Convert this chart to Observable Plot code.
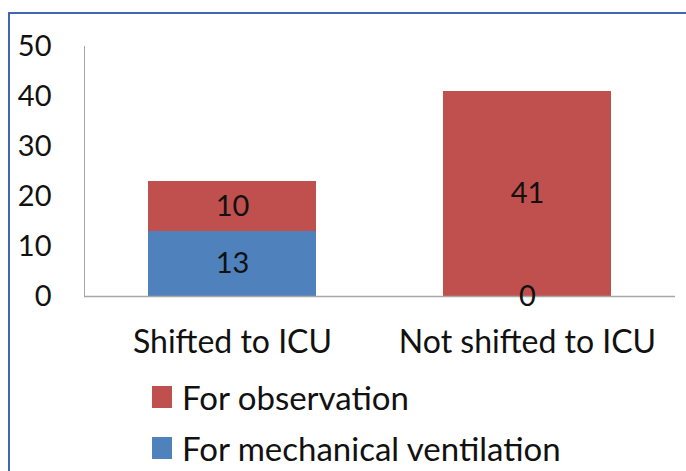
<!DOCTYPE html>
<html>
<head>
<meta charset="utf-8">
<script src="https://cdn.jsdelivr.net/npm/d3@7"></script>
<script src="https://cdn.jsdelivr.net/npm/@observablehq/plot@0.6"></script>
<style>
  html, body { margin: 0; padding: 0; background: #fff; }
  #wrap { position: relative; width: 686px; height: 471px; overflow: hidden; font-family: Lato, sans-serif; }
  #frame { position: absolute; left: 8px; top: 12px; width: 700px; height: 480px; border-top: 2px solid #4366b0; border-left: 2px solid #4366b0; }
  #chart { position: absolute; left: 0; top: 0; }
  .leg { position: absolute; left: 152px; height: 33px; line-height: 33px; font-size: 33px; color: #111; white-space: nowrap; }
  .leg .sw { position: absolute; left: 0; width: 20px; height: 22px; }
  .leg .tx { position: absolute; left: 30px; top: 0; }
</style>
</head>
<body>
<div id="wrap">
  <div id="frame"></div>
  <div id="chart"></div>
  <div id="legend"></div>
</div>
<script>
const categories = ["Shifted to ICU", "Not shifted to ICU"];
const seriesNames = ["For mechanical ventilation", "For observation"];
const forMechanicalVentilation = [13, 0];
const forObservation = [10, 41];
const seriesColors = ["#4F81BD", "#C0504D"];
const yTicks = [0, 10, 20, 30, 40, 50];
const legendOrder = ["For observation", "For mechanical ventilation"];

const seriesValues = [forMechanicalVentilation, forObservation];
const data = [];
seriesNames.forEach((s, si) => {
  categories.forEach((c, ci) => data.push({category: c, series: s, value: seriesValues[si][ci]}));
});

const font = "Lato, sans-serif";

const chart = Plot.plot({
  width: 686,
  height: 365,
  marginLeft: 84,
  marginRight: 11,
  marginTop: 46,
  marginBottom: 69,
  style: {fontFamily: font, fontSize: "29px", color: "#111", background: "transparent", overflow: "visible"},
  x: {domain: categories, paddingInner: 0.43, paddingOuter: 0.215, label: null},
  y: {domain: [0, 50], label: null},
  color: {domain: seriesNames, range: seriesColors},
  marks: [
    Plot.barY(data, Plot.stackY({x: "category", y: "value", fill: "series", order: seriesNames})),
    Plot.frame({anchor: "left", stroke: "#a6a6a6"}),
    Plot.ruleY([0], {stroke: "#a6a6a6", strokeWidth: 1.3}),
    Plot.text(data, Plot.stackY({x: "category", y: "value", z: "series", order: seriesNames, text: "value", fill: "#111", fontSize: 29})),
    Plot.axisY({ticks: yTicks, tickSize: 0, tickPadding: 33, fontSize: 29, label: null}),
    Plot.axisX({tickSize: 0, tickPadding: 34, fontSize: 32, label: null})
  ]
});
document.getElementById("chart").appendChild(chart);

const legend = document.getElementById("legend");
const rowTops = [381, 432];
legendOrder.forEach((name, i) => {
  const row = document.createElement("div");
  row.className = "leg";
  row.style.top = rowTops[i] + "px";
  const sw = document.createElement("div");
  sw.className = "sw";
  sw.style.top = "5px";
  sw.style.background = seriesColors[seriesNames.indexOf(name)];
  const tx = document.createElement("span");
  tx.className = "tx";
  tx.textContent = name;
  row.appendChild(sw);
  row.appendChild(tx);
  legend.appendChild(row);
});
</script>
</body>
</html>
